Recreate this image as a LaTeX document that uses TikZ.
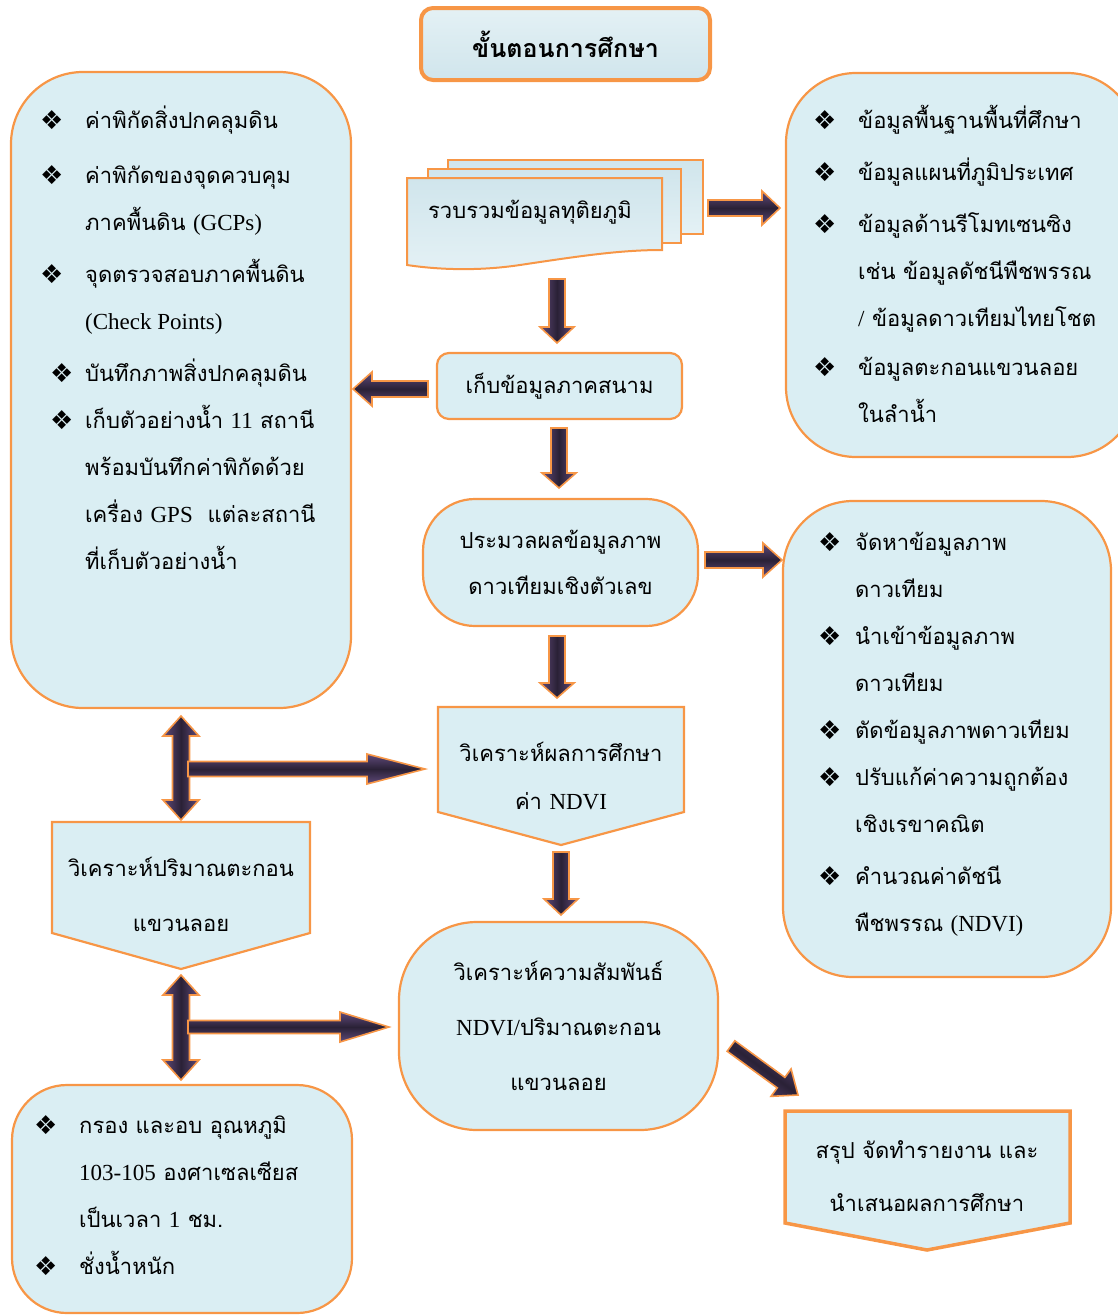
\documentclass[tikz,border=0pt]{standalone}
\usepackage{fontspec}
\setmainfont{Liberation Serif}
\newfontfamily\thai[Script=Thai]{Loma}
\newfontfamily\symf{DejaVu Sans}
\usetikzlibrary{calc}
\definecolor{boxfill}{HTML}{DAEEF3}
\definecolor{boxtop}{HTML}{E4F1F5}
\definecolor{boxbot}{HTML}{D0E5EC}
\definecolor{edge}{HTML}{F79646}
\definecolor{arrdark}{HTML}{2A2136}
\definecolor{arrlight}{HTML}{604A7B}
\newcommand{\lat}[1]{{\rmfamily\fontsize{23}{47}\selectfont #1}}
\newcommand{\bul}[1][45pt]{\makebox[#1][l]{\raisebox{-1pt}{\symf\fontsize{26}{47}\selectfont ❖}}}
\newcommand{\ind}[1][45pt]{\hspace*{#1}}
\newcommand{\blockarrow}[6][]{%
  \coordinate (bac) at ($(#3)!#6!(#2)$);
  \draw[arrsty,#1] ($(#2)!#4!90:(#3)$) -- ($(bac)!#4!90:(#3)$) -- ($(bac)!#5!90:(#3)$) -- (#3) -- ($(bac)!#5!-90:(#3)$) -- ($(bac)!#4!-90:(#3)$) -- ($(#2)!#4!-90:(#3)$) -- cycle;}
\newcommand{\dblarrow}[6][]{%
  \coordinate (dac) at ($(#2)!#6!(#3)$);
  \coordinate (dad) at ($(#3)!#6!(#2)$);
  \draw[arrsty,#1] (#2) -- ($(dac)!#5!90:(#3)$) -- ($(dac)!#4!90:(#3)$) -- ($(dad)!#4!90:(#3)$) -- ($(dad)!#5!90:(#3)$) -- (#3) -- ($(dad)!#5!-90:(#3)$) -- ($(dad)!#4!-90:(#3)$) -- ($(dac)!#4!-90:(#3)$) -- ($(dac)!#5!-90:(#3)$) -- cycle;}
\tikzset{
  rbox/.style={draw=edge, line width=2.2pt, fill=boxfill, inner sep=0pt},
  pent/.style={draw=edge, line width=2.2pt, fill=boxfill, line join=miter},
  sheet/.style={draw=edge, line width=2pt, top color=boxbot, bottom color=boxtop},
  arrsty/.style={draw=edge, line width=1.6pt, line join=miter},
  vsh/.style={left color=arrlight, right color=arrlight, middle color=arrdark},
  hsh/.style={top color=arrlight, bottom color=arrlight, middle color=arrdark},
  body/.style={font=\thai\fontsize{22}{47}\selectfont},
  listtext/.style={body, align=left, anchor=north west, inner sep=0pt},
  ctext/.style={font=\thai\fontsize{22}{46}\selectfont, align=center, inner sep=0pt},
}
\begin{document}
\begin{tikzpicture}[x=1pt,y=-1pt]
\useasboundingbox (0,0) rectangle (1117,1315);

% ---- title
\node[rbox, line width=4pt, rounded corners=12pt, top color=boxtop, bottom color=boxbot,
      minimum width=289pt, minimum height=72pt,
      font=\thai\bfseries\fontsize{25}{30}\selectfont] (title) at (565.5,44) {ขั้นตอนการศึกษา};

% ---- big boxes
\node[rbox, rounded corners=72pt, minimum width=340pt, minimum height=636pt] (lbox) at (181,390) {};
\node[rbox, rounded corners=70pt, minimum width=351pt, minimum height=384pt] (rtop) at (961.5,265) {};
\node[rbox, rounded corners=70pt, minimum width=328pt, minimum height=476pt] (rmid) at (947,739) {};
\node[rbox, rounded corners=55pt, minimum width=340pt, minimum height=228pt] (blbox) at (182,1199) {};

% ---- document stack
\path[sheet] (448,160) rectangle (703,234);
\path[sheet] (428,169) rectangle (681,243);
\path[sheet] (407,178) -- (662,178) -- (662,250) .. controls (620,250) and (580,256) .. (520,265)
   .. controls (480,271) and (440,270) .. (407,265) -- cycle;
\node[ctext] (docs) at (530,212) {รวบรวมข้อมูลทุติยภูมิ};

% ---- flow boxes
\node[rbox, rounded corners=12pt, minimum width=245pt, minimum height=66pt, ctext] (field) at (559.5,386) {เก็บข้อมูลภาคสนาม};
\node[rbox, rounded corners=52pt, minimum width=275pt, minimum height=127pt, ctext] (proc) at (560.5,562.5) {ประมวลผลข้อมูลภาพ\\ดาวเทียมเชิงตัวเลข};
\path[pent] (438,707) -- (684,707) -- (684,812) -- (561,845) -- (438,812) -- cycle;
\node[ctext, font=\thai\fontsize{22}{48}\selectfont] (ndvi) at (561,776) {วิเคราะห์ผลการศึกษา\\ค่า \lat{NDVI}};
\node[rbox, rounded corners=78pt, minimum width=319pt, minimum height=208pt, ctext, font=\thai\fontsize{22}{55}\selectfont] (rel) at (558.5,1026) {วิเคราะห์ความสัมพันธ์\\\lat{NDVI/}ปริมาณตะกอน\\แขวนลอย};
\path[pent] (52,822) -- (310,822) -- (310,933) -- (181,969) -- (52,933) -- cycle;
\node[ctext, font=\thai\fontsize{22}{55}\selectfont] (sed) at (181,894) {วิเคราะห์ปริมาณตะกอน\\แขวนลอย};
\path[pent, line width=3.5pt] (785,1111) -- (1070,1111) -- (1070,1223) -- (927,1250) -- (785,1223) -- cycle;
\node[ctext, font=\thai\fontsize{22}{53}\selectfont] (summ) at (927,1176) {สรุป จัดทำรายงาน และ\\นำเสนอผลการศึกษา};

% ---- list texts
\node[listtext] (ltext) at (40,106) {%
\bul ค่าพิกัดสิ่งปกคลุมดิน\\[8pt]
\bul ค่าพิกัดของจุดควบคุม\\
\ind ภาคพื้นดิน \lat{(GCPs)}\\[5pt]
\bul จุดตรวจสอบภาคพื้นดิน\\
\ind \lat{(Check Points)}\\[5pt]
\hspace*{10pt}\bul[35pt]บันทึกภาพสิ่งปกคลุมดิน\\
\hspace*{10pt}\bul[35pt]เก็บตัวอย่างน้ำ \lat{11} สถานี\\
\ind พร้อมบันทึกค่าพิกัดด้วย\\
\ind เครื่อง \lat{GPS}\ \ แต่ละสถานี\\
\ind ที่เก็บตัวอย่างน้ำ};

\node[listtext] (rtext) at (813,105) {%
\bul[45pt]ข้อมูลพื้นฐานพื้นที่ศึกษา\\[5pt]
\bul[45pt]ข้อมูลแผนที่ภูมิประเทศ\\[5pt]
\bul[45pt]ข้อมูลด้านรีโมทเซนซิง\\
\ind[45pt]เช่น ข้อมูลดัชนีพืชพรรณ\\
\ind[45pt]\lat{/} ข้อมูลดาวเทียมไทยโชต\\[2pt]
\bul[45pt]ข้อมูลตะกอนแขวนลอย\\
\ind[45pt]ในลำน้ำ};

\node[listtext] (mtext) at (818,532) {%
\bul[37pt]จัดหาข้อมูลภาพ\\
\ind[37pt]ดาวเทียม\\
\bul[37pt]นำเข้าข้อมูลภาพ\\
\ind[37pt]ดาวเทียม\\
\bul[37pt]ตัดข้อมูลภาพดาวเทียม\\
\bul[37pt]ปรับแก้ค่าความถูกต้อง\\
\ind[37pt]เชิงเรขาคณิต\\[5pt]
\bul[37pt]คำนวณค่าดัชนี\\
\ind[37pt]พืชพรรณ \lat{(NDVI)}};

\node[listtext] (btext) at (34,1115) {%
\bul กรอง และอบ อุณหภูมิ\\
\ind \lat{103-105} องศาเซลเซียส\\
\ind เป็นเวลา \lat{1} ชม.\\
\bul ชั่งน้ำหนัก};

% ---- arrow end points
\coordinate (docsR) at (708,208);   \coordinate (rtopL) at (780,208);
\coordinate (docsB) at (557,279);   \coordinate (fieldT) at (557,343);
\coordinate (fieldL) at (428,389);  \coordinate (lboxR) at (353,389);
\coordinate (fieldB) at (559,428);  \coordinate (procT) at (559,488);
\coordinate (procR) at (705,560);   \coordinate (rmidL) at (782,560);
\coordinate (procB) at (557,636);   \coordinate (ndviT) at (557,698);
\coordinate (ndviB) at (561,852);   \coordinate (relT) at (561,915);
\coordinate (lboxB) at (181,716);   \coordinate (sedT) at (181,820);
\coordinate (j1) at (188,769);      \coordinate (ndviL) at (425,769);
\coordinate (sedB) at (181,975);    \coordinate (blboxT) at (181,1080);
\coordinate (j2) at (188,1027);     \coordinate (relL) at (389,1027);
\coordinate (relR) at (731,1046);   \coordinate (summT) at (798,1095);

% ---- arrows
\blockarrow[hsh]{docsR}{rtopL}{8pt}{17pt}{18pt}
\blockarrow[vsh]{docsB}{fieldT}{8pt}{17pt}{16pt}
\blockarrow[hsh]{fieldL}{lboxR}{8pt}{17pt}{19pt}
\blockarrow[vsh]{fieldB}{procT}{8pt}{17pt}{15pt}
\blockarrow[hsh]{procR}{rmidL}{8pt}{17pt}{19pt}
\blockarrow[vsh]{procB}{ndviT}{8pt}{17pt}{15pt}
\blockarrow[vsh]{ndviB}{relT}{8pt}{17pt}{16pt}
\dblarrow[vsh]{lboxB}{sedT}{8.5pt}{18pt}{20pt}
\blockarrow[hsh]{j1}{ndviL}{7.5pt}{15pt}{58pt}
\dblarrow[vsh]{sedB}{blboxT}{8.5pt}{18pt}{20pt}
\blockarrow[hsh]{j2}{relL}{6.5pt}{15pt}{49pt}
\blockarrow[hsh, shading angle=-36]{relR}{summT}{6.5pt}{17pt}{21pt}
\end{tikzpicture}
\end{document}
